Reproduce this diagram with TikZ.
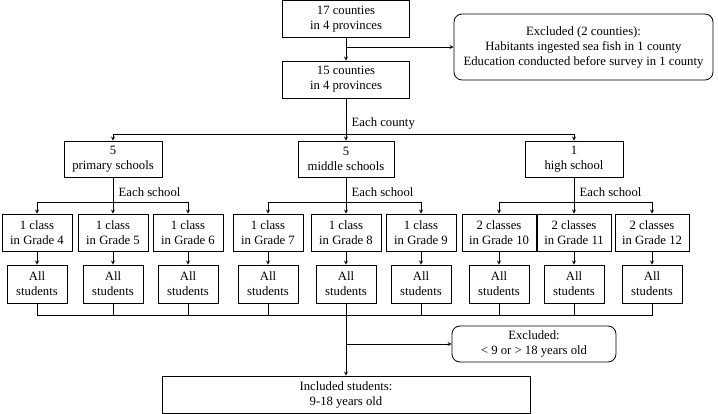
\documentclass[tikz,border=0pt]{standalone}
\usepackage{fontspec}
\setmainfont{Liberation Serif}
\usetikzlibrary{arrows.meta}

\begin{document}
\begin{tikzpicture}[>=stealth, x=1pt, y=-1pt, font=\fontsize{12.7}{15}\selectfont, line width=0.8pt,
		box/.style={draw, align=center, inner sep=0pt, minimum height=37pt},
		rbox/.style={box, rounded corners=8pt}]
		\useasboundingbox (0,0) rectangle (718,414);
		% counties
		\node[box, minimum width=127pt] (c17) at (346,19) {17 counties\\in 4 provinces};
		\node[box, minimum width=127pt] (c15) at (346,79.5) {15 counties\\in 4 provinces};
		\node[rbox, minimum width=259pt, minimum height=66pt] (exc1) at (583.5,47) {Excluded (2 counties):\\Habitants ingested sea fish in 1 county\\Education conducted before survey in 1 county};
		\draw[->] (c17) -- (c15);
		\draw[->] (c17 |- exc1.west) -- (exc1.west);
		% schools in each county
		\coordinate (cnty) at (346,134);
		\node[anchor=west] (lcnty) at (348,123) {Each county};
		\node[box, minimum width=98pt, minimum height=36pt] (prim) at (113,159) {5\\primary schools};
		\node[box, minimum width=96pt, minimum height=36pt] (mid) at (346,159) {5\\middle schools};
		\node[box, minimum width=98pt, minimum height=36pt] (high) at (574,159) {1\\high school};
		\draw (c15) -- (cnty);
		\draw[->] (cnty) -| (prim);
		\draw[->] (cnty) -- (mid);
		\draw[->] (cnty) -| (high);
		% classes in each school
		\node[box, minimum width=70pt] (g4) at (37,232.5) {1 class\\in Grade 4};
		\node[box, minimum width=70pt] (g5) at (113,232.5) {1 class\\in Grade 5};
		\node[box, minimum width=70pt] (g6) at (188,232.5) {1 class\\in Grade 6};
		\node[box, minimum width=70pt] (g7) at (268,232.5) {1 class\\in Grade 7};
		\node[box, minimum width=70pt] (g8) at (346,232.5) {1 class\\in Grade 8};
		\node[box, minimum width=70pt] (g9) at (421,232.5) {1 class\\in Grade 9};
		\node[box, minimum width=74pt] (g10) at (499,232.5) {2 classes\\in Grade 10};
		\node[box, minimum width=74pt] (g11) at (574,232.5) {2 classes\\in Grade 11};
		\node[box, minimum width=74pt] (g12) at (652,232.5) {2 classes\\in Grade 12};
		\coordinate (psch) at (113,202);
		\coordinate (msch) at (346,202);
		\coordinate (hsch) at (574,202);
		\node[anchor=west] (lpsch) at (115,192) {Each school};
		\node[anchor=west] (lmsch) at (348,192) {Each school};
		\node[anchor=west] (lhsch) at (576,192) {Each school};
		\draw (prim) -- (psch);
		\draw[->] (psch) -| (g4);
		\draw[->] (psch) -- (g5);
		\draw[->] (psch) -| (g6);
		\draw (mid) -- (msch);
		\draw[->] (msch) -| (g7);
		\draw[->] (msch) -- (g8);
		\draw[->] (msch) -| (g9);
		\draw (high) -- (hsch);
		\draw[->] (hsch) -| (g10);
		\draw[->] (hsch) -- (g11);
		\draw[->] (hsch) -| (g12);
		% all students of each class
		\node[box, minimum width=60pt, minimum height=38pt] (a4) at (37,284) {All\\students};
		\node[box, minimum width=60pt, minimum height=38pt] (a5) at (113,284) {All\\students};
		\node[box, minimum width=60pt, minimum height=38pt] (a6) at (188,284) {All\\students};
		\node[box, minimum width=60pt, minimum height=38pt] (a7) at (268,284) {All\\students};
		\node[box, minimum width=60pt, minimum height=38pt] (a8) at (346,284) {All\\students};
		\node[box, minimum width=60pt, minimum height=38pt] (a9) at (421,284) {All\\students};
		\node[box, minimum width=60pt, minimum height=38pt] (a10) at (499,284) {All\\students};
		\node[box, minimum width=60pt, minimum height=38pt] (a11) at (574,284) {All\\students};
		\node[box, minimum width=60pt, minimum height=38pt] (a12) at (652,284) {All\\students};
		\draw[->] (g4) -- (a4);
		\draw[->] (g5) -- (a5);
		\draw[->] (g6) -- (a6);
		\draw[->] (g7) -- (a7);
		\draw[->] (g8) -- (a8);
		\draw[->] (g9) -- (a9);
		\draw[->] (g10) -- (a10);
		\draw[->] (g11) -- (a11);
		\draw[->] (g12) -- (a12);
		% pooling and age criterion
		\coordinate (pool) at (346,315);
		\draw (a4.south) -- (a4 |- pool) -- (a12 |- pool) -- (a12.south);
		\draw (a5) -- (a5 |- pool);
		\draw (a6) -- (a6 |- pool);
		\draw (a7) -- (a7 |- pool);
		\draw (a8) -- (pool);
		\draw (a9) -- (a9 |- pool);
		\draw (a10) -- (a10 |- pool);
		\draw (a11) -- (a11 |- pool);
		\node[rbox, minimum width=164pt, minimum height=36pt] (exc2) at (534,344) {Excluded:\\\textless{} 9 or \textgreater{} 18 years old};
		\node[box, minimum width=368pt] (incl) at (346,394.5) {Included students:\\9-18 years old};
		\draw[->] (pool) -- (incl);
		\draw[->] (pool |- exc2.west) -- (exc2.west);
	\end{tikzpicture}
\end{document}
